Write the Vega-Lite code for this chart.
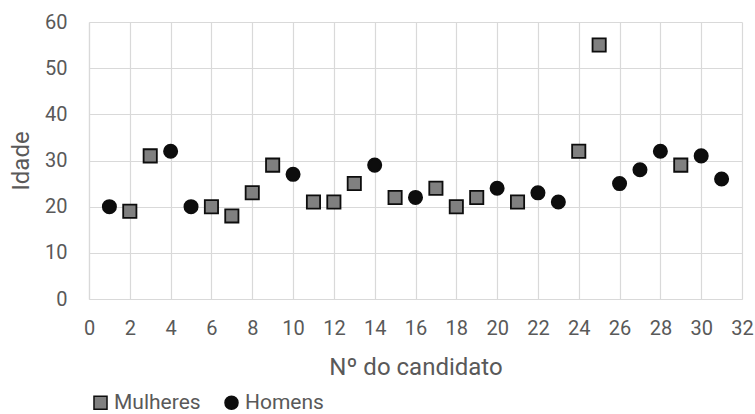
{
  "$schema": "https://vega.github.io/schema/vega-lite/v6.json",
  "autosize": "none",
  "width": 653,
  "height": 277,
  "padding": {"left": 89, "top": 22, "right": 13, "bottom": 115},
  "background": "white",
  "config": {
    "font": "Roboto, sans-serif",
    "view": {"stroke": null},
    "axis": {
      "labelFont": "Roboto, sans-serif",
      "titleFont": "Roboto, sans-serif",
      "labelColor": "#595959",
      "titleColor": "#595959",
      "labelFontSize": 20,
      "titleFontSize": 24,
      "titleFontWeight": "normal",
      "gridColor": "#d9d9d9",
      "gridWidth": 1.2,
      "domainColor": "#d9d9d9",
      "domainWidth": 1.2,
      "ticks": false
    },
    "legend": {
      "labelFont": "Roboto, sans-serif",
      "labelColor": "#595959",
      "labelFontSize": 21,
      "padding": 0
    }
  },
  "data": {
    "values": [
      {"n": 1, "idade": 20, "sexo": "Homens"},
      {"n": 2, "idade": 19, "sexo": "Mulheres"},
      {"n": 3, "idade": 31, "sexo": "Mulheres"},
      {"n": 4, "idade": 32, "sexo": "Homens"},
      {"n": 5, "idade": 20, "sexo": "Homens"},
      {"n": 6, "idade": 20, "sexo": "Mulheres"},
      {"n": 7, "idade": 18, "sexo": "Mulheres"},
      {"n": 8, "idade": 23, "sexo": "Mulheres"},
      {"n": 9, "idade": 29, "sexo": "Mulheres"},
      {"n": 10, "idade": 27, "sexo": "Homens"},
      {"n": 11, "idade": 21, "sexo": "Mulheres"},
      {"n": 12, "idade": 21, "sexo": "Mulheres"},
      {"n": 13, "idade": 25, "sexo": "Mulheres"},
      {"n": 14, "idade": 29, "sexo": "Homens"},
      {"n": 15, "idade": 22, "sexo": "Mulheres"},
      {"n": 16, "idade": 22, "sexo": "Homens"},
      {"n": 17, "idade": 24, "sexo": "Mulheres"},
      {"n": 18, "idade": 20, "sexo": "Mulheres"},
      {"n": 19, "idade": 22, "sexo": "Mulheres"},
      {"n": 20, "idade": 24, "sexo": "Homens"},
      {"n": 21, "idade": 21, "sexo": "Mulheres"},
      {"n": 22, "idade": 23, "sexo": "Homens"},
      {"n": 23, "idade": 21, "sexo": "Homens"},
      {"n": 24, "idade": 32, "sexo": "Mulheres"},
      {"n": 25, "idade": 55, "sexo": "Mulheres"},
      {"n": 26, "idade": 25, "sexo": "Homens"},
      {"n": 27, "idade": 28, "sexo": "Homens"},
      {"n": 28, "idade": 32, "sexo": "Homens"},
      {"n": 29, "idade": 29, "sexo": "Mulheres"},
      {"n": 30, "idade": 31, "sexo": "Homens"},
      {"n": 31, "idade": 26, "sexo": "Homens"}
    ]
  },
  "mark": {"type": "point", "filled": true, "size": 175, "stroke": "#0d0d0d", "strokeWidth": 1.8, "opacity": 1},
  "encoding": {
    "x": {
      "field": "n", "type": "quantitative",
      "scale": {"domain": [0, 32], "nice": false},
      "axis": {"values": [0,2,4,6,8,10,12,14,16,18,20,22,24,26,28,30,32], "title": "Nº do candidato", "labelPadding": 19, "titlePadding": 17, "labelFlush": false}
    },
    "y": {
      "field": "idade", "type": "quantitative",
      "scale": {"domain": [0, 60], "nice": false},
      "axis": {"values": [0,10,20,30,40,50,60], "title": "Idade", "labelPadding": 22, "titlePadding": 11}
    },
    "color": {
      "field": "sexo", "type": "nominal",
      "scale": {"domain": ["Mulheres", "Homens"], "range": ["#808080", "#0d0d0d"]},
      "legend": {"title": null, "orient": "none", "direction": "horizontal", "legendX": 1, "legendY": 370, "columnPadding": 20, "symbolSize": 170, "symbolStrokeColor": "#0d0d0d", "symbolStrokeWidth": 1.5, "labelOffset": 3}
    },
    "shape": {
      "field": "sexo", "type": "nominal",
      "scale": {"domain": ["Mulheres", "Homens"], "range": ["square", "circle"]}
    }
  }
}
